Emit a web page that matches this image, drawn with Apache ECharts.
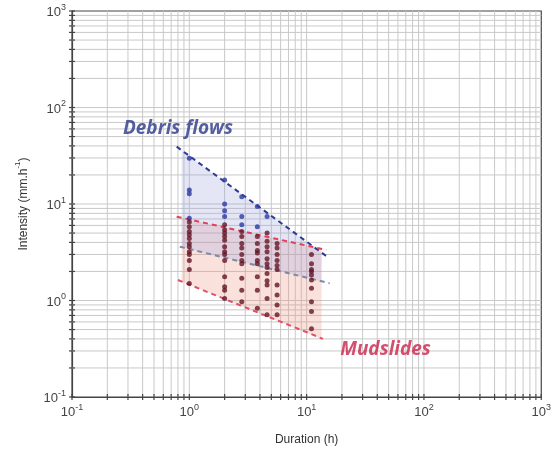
<!DOCTYPE html>
<html><head><meta charset="utf-8">
<script src="https://cdn.jsdelivr.net/npm/echarts@6/dist/echarts.min.js"></script>
<style>html,body{margin:0;padding:0;background:#fff}#c{width:554px;height:452px}</style>
</head><body><div id="c"></div>
<script>
// Durations (h) of the sampled columns
const durations = [1, 2, 2.8, 3.8, 4.6, 5.6, 11];
// Debris-flow events (blue), one list per duration
const debrisIntensity = [
  [29.8, 14, 12.8, 7.1],
  [17.7, 10, 8.5, 7.4],
  [11.9, 7.4, 6.1],
  [9.4, 5.8],
  [7.4],
  [],
  []
];
// Mudslide events (dark red), one list per duration
const mudIntensity = [
  [6.5, 5.8, 5.2, 4.8, 4.4, 3.9, 3.6, 3.2, 3.0, 2.6, 2.1, 1.5],
  [6.1, 5.4, 5.0, 4.6, 4.2, 3.6, 3.2, 3.0, 2.6, 1.76, 1.39, 1.28, 1.05],
  [5.2, 4.6, 3.9, 3.5, 3.0, 2.6, 2.4, 1.7, 1.28, 0.97],
  [4.6, 3.9, 3.3, 3.1, 2.6, 2.4, 1.76, 1.28, 0.83],
  [5.0, 4.1, 3.6, 3.2, 2.7, 2.4, 2.2, 1.9, 1.6, 1.45, 1.05, 0.71],
  [3.9, 3.5, 3.0, 2.6, 2.3, 2.1, 1.45, 1.14, 0.9, 0.71],
  [3.0, 2.4, 2.1, 2.0, 1.84, 1.63, 1.34, 0.97, 0.77, 0.51]
];
// Threshold envelope lines [duration, intensity]
const debrisUpper = [[0.78, 39.3], [15.1, 2.82]];
const debrisLower = [[0.83, 3.61], [15.7, 1.51]];
const mudUpper = [[0.78, 7.39], [14.7, 3.34]];
const mudLower = [[0.80, 1.63], [13.8, 0.40]];
// Shaded envelopes
const debrisArea = [[0.86, 35.8], [13.4, 3.12], [13.4, 1.58], [0.86, 3.57]];
const mudArea = [[0.86, 7.18], [13.4, 3.42], [13.4, 0.40], [0.86, 1.57]];
// Axis ticks
const majorTicks = [0.1, 1, 10, 100, 1000];
const tickMultipliers = [2, 3, 4, 5, 6, 7, 8, 9];
const minorTicks = [];
[0.1, 1, 10, 100].forEach(d => tickMultipliers.forEach(m => minorTicks.push(+(d * m).toPrecision(3))));
const allTicks = majorTicks.concat(minorTicks);
// Annotations
const debrisLabelPos = [0.80, 61];
const mudLabelPos = [47, 0.307];

function pts(intens) {
  const out = [];
  intens.forEach((col, i) => col.forEach(v => out.push([durations[i], v])));
  return out;
}

const chart = echarts.init(document.getElementById('c'));
const FONT = '"Liberation Sans", Arial, sans-serif';
const labelRich = {
  b: {fontSize: 13, fontFamily: FONT, color: '#444', lineHeight: 16, verticalAlign: 'bottom'},
  s: {fontSize: 9, fontFamily: FONT, color: '#444', lineHeight: 16, verticalAlign: 'top', padding: [0, 0, 6, 0]}
};
function fmt(v) {
  const e = Math.round(Math.log10(v));
  return '{b|10}{s|' + e + '}';
}

function polySeries(area, color) {
  return {
    type: 'custom', coordinateSystem: 'cartesian2d', silent: true, z: 2,
    data: [[area[0][0], area[0][1]]],
    renderItem: function (params, api) {
      return {
        type: 'polygon',
        shape: {points: area.map(p => api.coord(p))},
        style: {fill: color, stroke: null}
      };
    }
  };
}
function lineSeries(data, color) {
  return {
    type: 'line', data: data, symbol: 'none', silent: true, z: 4,
    lineStyle: {color: color, width: 2, type: [5, 4]}
  };
}

chart.setOption({
  animation: false,
  grid: {left: 72, right: 12, top: 11, bottom: 55, show: true, borderColor: '#444', borderWidth: 1.2, backgroundColor: 'transparent'},
  xAxis: {
    type: 'log', logBase: 10, min: 0.1, max: 1000,
    name: 'Duration (h)', nameLocation: 'middle', nameGap: 37,
    nameTextStyle: {fontFamily: FONT, fontSize: 12, color: '#333'},
    axisLine: {lineStyle: {color: '#444', width: 1.2}},
    axisTick: {show: false}, splitLine: {show: false},
    axisLabel: {formatter: fmt, rich: labelRich, margin: 6}
  },
  yAxis: {
    type: 'log', logBase: 10, min: 0.1, max: 1000,
    name: '{a|Intensity (mm.h}{s|-1}{a|)}', nameLocation: 'middle', nameGap: 42, nameRotate: 90,
    nameTextStyle: {rich: {
      a: {fontFamily: FONT, fontSize: 12, color: '#333', lineHeight: 16, verticalAlign: 'bottom'},
      s: {fontFamily: FONT, fontSize: 8, color: '#333', lineHeight: 16, verticalAlign: 'top', padding: [0, 0, 6, 0]}
    }},
    axisLine: {lineStyle: {color: '#444', width: 1.2}},
    axisTick: {show: false}, splitLine: {show: false},
    axisLabel: {formatter: fmt, rich: labelRich, margin: 6}
  },
  series: [
    {
      type: 'custom', coordinateSystem: 'cartesian2d', silent: true, z: 1,
      data: allTicks.map(v => [v, v]),
      renderItem: function (params, api) {
        const v = api.value(0);
        const x0 = api.coord([v, 0.1]), x1 = api.coord([v, 1000]);
        const y0 = api.coord([0.1, v]), y1 = api.coord([1000, v]);
        const children = [];
        const isEdge = (v === 0.1 || v === 1000);
        if (!isEdge) {
          children.push({type: 'line', shape: {x1: x0[0], y1: x0[1], x2: x1[0], y2: x1[1]}, style: {stroke: '#c9c9c9', lineWidth: 1}});
          children.push({type: 'line', shape: {x1: y0[0], y1: y0[1], x2: y1[0], y2: y1[1]}, style: {stroke: '#c9c9c9', lineWidth: 1}});
        }
        children.push({type: 'line', shape: {x1: x0[0], y1: x0[1] - 3, x2: x0[0], y2: x0[1] + 3}, style: {stroke: '#444', lineWidth: 1.2}});
        children.push({type: 'line', shape: {x1: y0[0] - 3, y1: y0[1], x2: y0[0] + 3, y2: y0[1]}, style: {stroke: '#444', lineWidth: 1.2}});
        return {type: 'group', children: children};
      }
    },
    polySeries(mudArea, 'rgba(235,140,120,0.26)'),
    polySeries(debrisArea, 'rgba(150,160,220,0.26)'),
    lineSeries(debrisUpper, '#2c3c96'),
    lineSeries(debrisLower, '#7d8aa8'),
    lineSeries(mudUpper, '#e0405a'),
    lineSeries(mudLower, '#e0506a'),
    {type: 'scatter', data: pts(debrisIntensity), symbolSize: 5, z: 5, itemStyle: {color: '#2a3aa0'}},
    {type: 'scatter', data: pts(mudIntensity), symbolSize: 5, z: 5, itemStyle: {color: '#641627'}},
    {
      type: 'scatter', data: [debrisLabelPos], symbolSize: 1, z: 6, itemStyle: {color: 'rgba(0,0,0,0)'},
      label: {show: true, position: 'inside', formatter: 'Debris flows', fontFamily: '"Open Sans", sans-serif', fontWeight: 'bold', fontStyle: 'italic', fontSize: 19, color: '#2a388c'}
    },
    {
      type: 'scatter', data: [mudLabelPos], symbolSize: 1, z: 6, itemStyle: {color: 'rgba(0,0,0,0)'},
      label: {show: true, position: 'inside', formatter: 'Mudslides', fontFamily: '"Open Sans", sans-serif', fontWeight: 'bold', fontStyle: 'italic', fontSize: 19, color: '#c8244a'}
    }
  ]
});
</script></body></html>
